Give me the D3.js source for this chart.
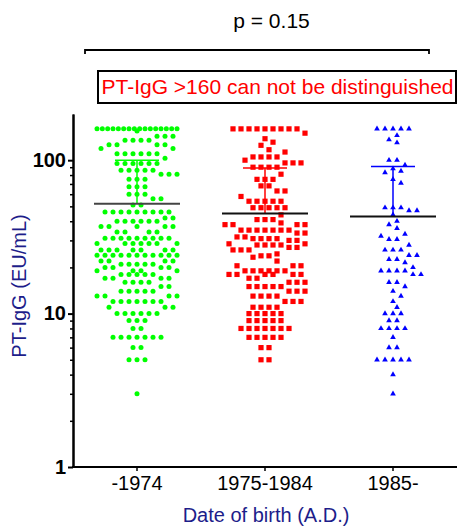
<!DOCTYPE html>
<html><head><meta charset="utf-8">
<script src="https://cdn.jsdelivr.net/npm/d3@7"></script>
<style>
body{margin:0;background:#fff}
svg{display:block}
text{font-family:"Liberation Sans",Arial,sans-serif}
</style>
</head><body>
<svg id="c" width="457" height="526"></svg>
<script>
// ---- data (value, number of subjects at that value) ----
const categories = ["-1974", "1975-1984", "1985-"];
const colors = ["#00ff00", "#ff0000", "#0000ff"];
const rows1974 = [[160,16],[155,1],[143,3],[135,4],[126,4],[119,2],[110,6],[103,1],[95,6],[86,5],[81,3],[75,3],[67,3],[60,3],[56,2],[51,2],[46,9],[42,2],[40,6],[37,5],[34,4],[31,9],[28.6,7],[26,7],[24,11],[22,4],[21,5],[20,4],[19,4],[18,5],[17,4],[16,4],[15,2],[14,5],[13,4],[12,7],[11,3],[10,6],[9,3],[8,2],[7,7],[6,2],[5,3],[3,1]];
const rows1975 = [[160,9],[150,1],[138,1],[131,1],[125,1],[117,1],[113,1],[105,4],[100,1],[96,3],[90,4],[81,1],[75,3],[68,2],[63,2],[58,1],[54,5],[49,5],[44,1],[41,3],[39,1],[38,4],[35,7],[33.5,2],[31.6,2],[30.8,4],[30,2],[28.5,2],[28,4],[27,2],[26,3],[24.5,1],[23.8,2],[23.3,1],[22,1],[20.5,3],[19,6],[18,6],[17,2],[16,3],[15,5],[14,3],[13,4],[12,3],[11,4],[10,5],[9,5],[8,7],[7,5],[6,2],[5,2]];
const rows1985 = [[160,5],[145,1],[136,1],[130,1],[100,2],[93,1],[88,1],[85,1],[83,1],[75,1],[71,1],[49,3],[47,2],[44,1],[40,1],[38,1],[36,1],[33,1],[32,1],[30.5,2],[28,1],[26,3],[24,2],[22.6,2],[21.5,1],[20,1],[19,4],[18,2],[16,2],[15,1],[14,1],[13,1],[12,1],[11,1],[10,3],[9,2],[8,4],[7,1],[6,2],[5,5],[4,1],[3,1]];
const groupRows = [rows1974, rows1975, rows1985];
const means = [52, 45, 43];
const upperSD = [100, 89, 91];
const yTicks = [1, 10, 100];
const pText = "p = 0.15";
const noteText = "PT-IgG >160 can not be distinguished";

const svg = d3.select("#c");
const x = d3.scaleBand().domain(categories).range([73, 457]);
const y = d3.scaleLog().domain([1, 200]).range([467, 114]);

// ---- beeswarm layout ----
function layout(rows) {
  const placed = [];
  const S = 8, D = 7, MAXW = 40;
  const order = rows.map((r, i) => ({v: r[0], n: r[1], i}))
                    .sort((a, b) => b.n - a.n || a.i - b.i);
  const cands = [0];
  for (let k = 4; k <= MAXW; k += 4) cands.push(k, -k);
  function minDist(px, py) {
    let m = Infinity;
    for (const p of placed) {
      const dx = p.x - px, dy = p.y - py, d = dx*dx + dy*dy;
      if (d < m) m = d;
    }
    return Math.sqrt(m);
  }
  for (const r of order) {
    const py = y(r.v);
    if ((r.n - 1) * S > 2 * MAXW) {
      const sp = 2 * MAXW / (r.n - 1);
      for (let j = 0; j < r.n; j++) placed.push({x: (j - (r.n - 1) / 2) * sp, y: py});
      continue;
    }
    const base = d3.range(r.n).map(j => (j - (r.n - 1) / 2) * S);
    let done = false;
    for (const s of cands) {
      const offs = base.map(o => o + s);
      if (offs.some(o => Math.abs(o) > MAXW + 0.1)) continue;
      if (offs.every(o => minDist(o, py) >= D - 0.01)) {
        offs.forEach(o => placed.push({x: o, y: py}));
        done = true; break;
      }
    }
    if (done) continue;
    for (let j = 0; j < r.n; j++) {
      let best = 0, bestD = -1;
      for (const c of cands) {
        const d = minDist(c, py);
        if (d >= D - 0.01) { best = c; break; }
        if (d > bestD) { bestD = d; best = c; }
      }
      placed.push({x: best, y: py});
    }
  }
  return placed;
}

// ---- axes ----
const minors = [];
[1, 10, 100].forEach(dec => { for (let k = 2; k <= 9; k++) if (dec * k < 200) minors.push(dec * k); });

const gy = svg.append("g").attr("transform", "translate(73,0)");
gy.call(d3.axisLeft(y).tickValues(minors).tickSize(3).tickSizeOuter(0).tickFormat(""));
gy.call(g => g.selectAll(".tick line").attr("stroke", "#000").attr("stroke-width", 1.5));
const gy2 = svg.append("g").attr("transform", "translate(73,0)");
gy2.call(d3.axisLeft(y).tickValues(yTicks).tickSize(5).tickSizeOuter(0).tickPadding(2).tickFormat(d3.format("d")));
gy2.selectAll(".tick line").attr("stroke", "#000").attr("stroke-width", 2);
gy2.selectAll(".tick text").attr("font-size", 20).attr("font-weight", "bold").attr("fill", "#000")
   .attr("font-family", '"Liberation Sans",Arial,sans-serif');
svg.selectAll(".domain").attr("stroke", "#000").attr("stroke-width", 2);

const gx = svg.append("g").attr("transform", "translate(0,467)");
gx.call(d3.axisBottom(x).tickSize(4).tickSizeOuter(0).tickPadding(5));
gx.select(".domain").attr("stroke", "#000").attr("stroke-width", 2).attr("d", "M72,0H457");
gx.selectAll(".tick line").attr("stroke", "#000").attr("stroke-width", 1.5);
gx.selectAll(".tick text").attr("font-size", 20).attr("fill", "#000")
   .attr("font-family", '"Liberation Sans",Arial,sans-serif');

// ---- points ----
groupRows.forEach((rows, gi) => {
  const cx = x(categories[gi]) + x.bandwidth() / 2;
  const pts = layout(rows);
  const g = svg.append("g").attr("fill", colors[gi]);
  if (gi === 0) {
    g.selectAll("circle").data(pts).join("circle")
      .attr("cx", d => cx + d.x).attr("cy", d => d.y).attr("r", 2.5);
  } else if (gi === 1) {
    g.selectAll("rect").data(pts).join("rect")
      .attr("x", d => cx + d.x - 2.6).attr("y", d => d.y - 2.6)
      .attr("width", 5.2).attr("height", 5.2);
  } else {
    const tri = d3.symbol(d3.symbolTriangle).size(14)();
    g.selectAll("path").data(pts).join("path")
      .attr("d", tri).attr("transform", d => `translate(${cx + d.x},${d.y})`);
  }
});

// ---- mean and +SD ----
categories.forEach((c, gi) => {
  const cx = x(c) + x.bandwidth() / 2;
  svg.append("line").attr("x1", cx).attr("x2", cx)
    .attr("y1", y(means[gi])).attr("y2", y(upperSD[gi]))
    .attr("stroke", colors[gi]).attr("stroke-width", 1.5);
  svg.append("line").attr("x1", cx - 22).attr("x2", cx + 22)
    .attr("y1", y(upperSD[gi])).attr("y2", y(upperSD[gi]))
    .attr("stroke", colors[gi]).attr("stroke-width", 1.5);
  svg.append("line").attr("x1", cx - 43).attr("x2", cx + 43)
    .attr("y1", y(means[gi])).attr("y2", y(means[gi]))
    .attr("stroke", gi === 0 ? "#444" : "#111").attr("stroke-width", 2);
});

// ---- labels ----
svg.append("text").attr("transform", "translate(26,286) rotate(-90)")
  .attr("text-anchor", "middle").attr("font-size", 20).attr("fill", "#1d1d8a")
  .text("PT-IgG (EU/mL)");
svg.append("text").attr("x", 266).attr("y", 522)
  .attr("text-anchor", "middle").attr("font-size", 20).attr("fill", "#1d1d8a")
  .text("Date of birth (A.D.)");

// p-value bracket
svg.append("text").attr("x", 271.5).attr("y", 28).attr("text-anchor", "middle")
  .attr("font-size", 21).attr("fill", "#000").text(pText);
svg.append("path").attr("d", "M85,54V50H429V54")
  .attr("fill", "none").attr("stroke", "#000").attr("stroke-width", 1.8);

// note box
svg.append("rect").attr("x", 98).attr("y", 71).attr("width", 358).attr("height", 32)
  .attr("fill", "#fff").attr("stroke", "#000").attr("stroke-width", 2);
svg.append("text").attr("x", 277.5).attr("y", 94).attr("text-anchor", "middle")
  .attr("font-size", 21).attr("fill", "#ff0000").text(noteText);
</script>
</body></html>
